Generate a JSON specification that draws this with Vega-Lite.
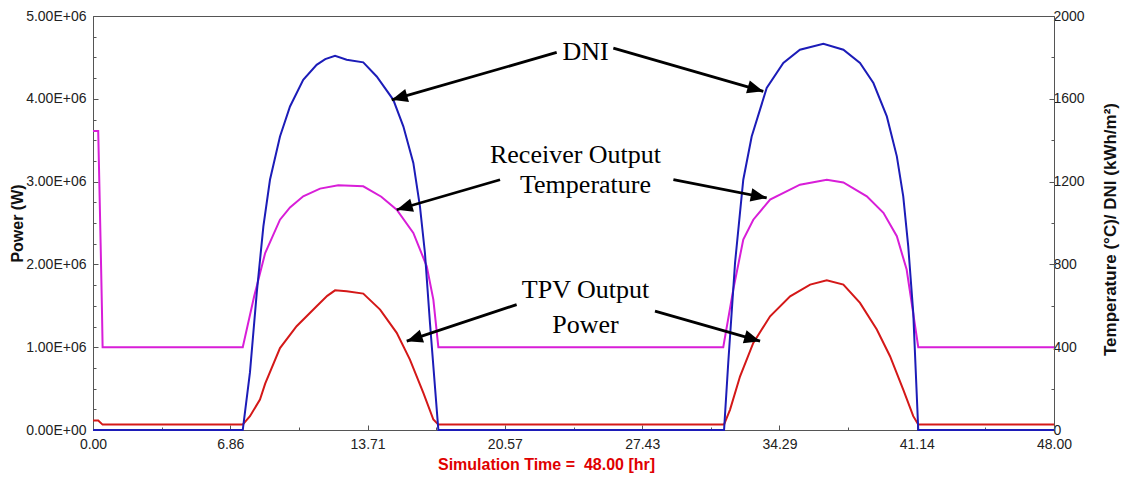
{
  "$schema": "https://vega.github.io/schema/vega-lite/v6.json",
  "width": 961,
  "height": 414,
  "autosize": {"type": "none"},
  "padding": {"left": 93, "top": 16, "right": 72, "bottom": 47},
  "background": "white",
  "config": {
    "view": {"stroke": "#555", "strokeWidth": 1},
    "axis": {"labelFont": "Liberation Sans", "labelFontSize": 14, "labelColor": "#222", "titleFont": "Liberation Sans", "domainColor": "#555", "tickColor": "#555", "grid": false, "labelOverlap": false, "labelFlush": false, "labelBound": false}
  },
  "datasets": {
    "power": [
      {"t": 0, "p": 115000}, {"t": 0.26, "p": 115000}, {"t": 0.48, "p": 65000}, {"t": 7.48, "p": 65000},
      {"t": 7.84, "p": 166000}, {"t": 8.34, "p": 368000}, {"t": 8.6, "p": 560000}, {"t": 9.34, "p": 990000},
      {"t": 10.17, "p": 1253000}, {"t": 11.17, "p": 1494000}, {"t": 11.7, "p": 1620000}, {"t": 12.09, "p": 1687000}, {"t": 12.67, "p": 1675000},
      {"t": 13.5, "p": 1647000}, {"t": 14.34, "p": 1454000}, {"t": 15.17, "p": 1173000}, {"t": 15.83, "p": 851000},
      {"t": 16.5, "p": 449000}, {"t": 17.0, "p": 127000}, {"t": 17.25, "p": 65000}, {"t": 31.52, "p": 65000},
      {"t": 31.82, "p": 247000}, {"t": 32.32, "p": 649000}, {"t": 32.98, "p": 1052000}, {"t": 33.82, "p": 1373000},
      {"t": 34.82, "p": 1615000}, {"t": 35.82, "p": 1756000}, {"t": 36.65, "p": 1808000}, {"t": 37.48, "p": 1756000},
      {"t": 38.31, "p": 1535000}, {"t": 39.15, "p": 1213000}, {"t": 39.81, "p": 891000}, {"t": 40.47, "p": 489000},
      {"t": 40.97, "p": 167000}, {"t": 41.22, "p": 65000}, {"t": 48, "p": 65000}
    ],
    "temp": [
      {"s": "Temperature", "t": 0, "v": 1445}, {"s": "Temperature", "t": 0.26, "v": 1445}, {"s": "Temperature", "t": 0.3, "v": 1267},
      {"s": "Temperature", "t": 0.38, "v": 905}, {"s": "Temperature", "t": 0.45, "v": 567}, {"s": "Temperature", "t": 0.48, "v": 400},
      {"s": "Temperature", "t": 7.48, "v": 400}, {"s": "Temperature", "t": 8.05, "v": 646}, {"s": "Temperature", "t": 8.6, "v": 855},
      {"s": "Temperature", "t": 9.34, "v": 1016}, {"s": "Temperature", "t": 9.84, "v": 1075}, {"s": "Temperature", "t": 10.5, "v": 1129},
      {"s": "Temperature", "t": 11.34, "v": 1166}, {"s": "Temperature", "t": 12.25, "v": 1182}, {"s": "Temperature", "t": 13.5, "v": 1177},
      {"s": "Temperature", "t": 14.4, "v": 1127}, {"s": "Temperature", "t": 15.17, "v": 1064}, {"s": "Temperature", "t": 16.0, "v": 952},
      {"s": "Temperature", "t": 16.67, "v": 791}, {"s": "Temperature", "t": 17.0, "v": 630}, {"s": "Temperature", "t": 17.25, "v": 400},
      {"s": "Temperature", "t": 31.48, "v": 400}, {"s": "Temperature", "t": 31.98, "v": 678}, {"s": "Temperature", "t": 32.48, "v": 920},
      {"s": "Temperature", "t": 32.98, "v": 1016}, {"s": "Temperature", "t": 33.82, "v": 1113}, {"s": "Temperature", "t": 35.31, "v": 1185},
      {"s": "Temperature", "t": 36.65, "v": 1209}, {"s": "Temperature", "t": 37.48, "v": 1196}, {"s": "Temperature", "t": 38.65, "v": 1129},
      {"s": "Temperature", "t": 39.48, "v": 1049}, {"s": "Temperature", "t": 40.15, "v": 936}, {"s": "Temperature", "t": 40.64, "v": 775},
      {"s": "Temperature", "t": 40.89, "v": 614}, {"s": "Temperature", "t": 41.22, "v": 400}, {"s": "Temperature", "t": 48, "v": 400},
      {"s": "DNI", "t": 0, "v": 0}, {"s": "DNI", "t": 7.48, "v": 0}, {"s": "DNI", "t": 7.84, "v": 278}, {"s": "DNI", "t": 8.18, "v": 664},
      {"s": "DNI", "t": 8.51, "v": 984}, {"s": "DNI", "t": 8.84, "v": 1209}, {"s": "DNI", "t": 9.34, "v": 1418}, {"s": "DNI", "t": 9.84, "v": 1563},
      {"s": "DNI", "t": 10.5, "v": 1692}, {"s": "DNI", "t": 11.17, "v": 1764}, {"s": "DNI", "t": 11.6, "v": 1792}, {"s": "DNI", "t": 12.09, "v": 1808}, {"s": "DNI", "t": 12.67, "v": 1789},
      {"s": "DNI", "t": 13.5, "v": 1776}, {"s": "DNI", "t": 14.17, "v": 1708}, {"s": "DNI", "t": 15.0, "v": 1595}, {"s": "DNI", "t": 15.5, "v": 1467},
      {"s": "DNI", "t": 16.0, "v": 1290}, {"s": "DNI", "t": 16.33, "v": 1080}, {"s": "DNI", "t": 16.58, "v": 855}, {"s": "DNI", "t": 16.83, "v": 518},
      {"s": "DNI", "t": 17.25, "v": 0}, {"s": "DNI", "t": 31.52, "v": 0}, {"s": "DNI", "t": 31.73, "v": 326}, {"s": "DNI", "t": 32.07, "v": 809},
      {"s": "DNI", "t": 32.48, "v": 1209}, {"s": "DNI", "t": 32.9, "v": 1418}, {"s": "DNI", "t": 33.65, "v": 1652}, {"s": "DNI", "t": 34.48, "v": 1773},
      {"s": "DNI", "t": 35.31, "v": 1837}, {"s": "DNI", "t": 36.48, "v": 1866}, {"s": "DNI", "t": 37.48, "v": 1837}, {"s": "DNI", "t": 38.31, "v": 1773},
      {"s": "DNI", "t": 38.98, "v": 1676}, {"s": "DNI", "t": 39.65, "v": 1515}, {"s": "DNI", "t": 40.15, "v": 1322}, {"s": "DNI", "t": 40.47, "v": 1129},
      {"s": "DNI", "t": 40.72, "v": 887}, {"s": "DNI", "t": 40.97, "v": 566}, {"s": "DNI", "t": 41.22, "v": 0}, {"s": "DNI", "t": 48, "v": 0}
    ],
    "labels": [
      {"label": "DNI", "t": 24.6, "v": 1827},
      {"label": "Receiver Output", "t": 24.1, "v": 1330},
      {"label": "Temperature", "t": 24.6, "v": 1182},
      {"label": "TPV Output", "t": 24.6, "v": 675},
      {"label": "Power", "t": 24.6, "v": 508}
    ],
    "arrows": [
      {"id": "a1", "t": 23.16, "v": 1824, "t2": 14.92, "v2": 1595},
      {"id": "a2", "t": 25.99, "v": 1845, "t2": 33.48, "v2": 1636},
      {"id": "a3", "t": 20.33, "v": 1209, "t2": 15.17, "v2": 1064},
      {"id": "a4", "t": 28.99, "v": 1209, "t2": 33.65, "v2": 1121},
      {"id": "a5", "t": 21.16, "v": 606, "t2": 15.67, "v2": 429},
      {"id": "a6", "t": 28.07, "v": 574, "t2": 33.32, "v2": 429}
    ]
  },
  "layer": [
    {
      "data": {"name": "power"},
      "mark": {"type": "line", "color": "#d41818", "strokeWidth": 2},
      "encoding": {
        "x": {
          "field": "t", "type": "quantitative",
          "scale": {"domain": [0, 48], "nice": false, "zero": false},
          "axis": {
            "values": [0, 1.7142857, 3.4285714, 5.1428571, 6.8571429, 8.5714286, 10.2857143, 12, 13.7142857, 15.4285714, 17.1428571, 18.8571429, 20.5714286, 22.2857143, 24, 25.7142857, 27.4285714, 29.1428571, 30.8571429, 32.5714286, 34.2857143, 36, 37.7142857, 39.4285714, 41.1428571, 42.8571429, 44.5714286, 46.2857143, 48],
            "labelExpr": "round(datum.value*28/48) % 4 === 0 ? format(datum.value, '.2f') : ''",
            "tickSize": {"condition": {"test": "round(datum.value*28/48) % 4 === 0", "value": -5}, "value": -3},
            "labelPadding": 12,
            "title": "Simulation Time =\u00a0 48.00 [hr]",
            "titleColor": "#e00000",
            "titleFontSize": 16,
            "titleFontWeight": "bold",
            "titleX": 453,
            "titleY": 34,
            "titleBaseline": "middle",
            "titleAlign": "center"
          }
        },
        "y": {
          "field": "p", "type": "quantitative",
          "scale": {"domain": [0, 5000000], "nice": false},
          "axis": {
            "orient": "left",
            "values": [0, 250000, 500000, 750000, 1000000, 1250000, 1500000, 1750000, 2000000, 2250000, 2500000, 2750000, 3000000, 3250000, 3500000, 3750000, 4000000, 4250000, 4500000, 4750000, 5000000],
            "labelExpr": "datum.value % 1000000 === 0 ? replace(format(datum.value, '.2e'), 'e+', 'E+0') : ''",
            "tickSize": {"condition": {"test": "datum.value % 1000000 === 0", "value": -5}, "value": -3},
            "labelPadding": 12,
            "title": "Power (W)",
            "titleColor": "#111",
            "titleFontSize": 16,
            "titleFontWeight": "bold",
            "titleAngle": -90,
            "titleX": -76,
            "titleY": 207,
            "titleBaseline": "middle",
            "titleAlign": "center"
          }
        }
      }
    },
    {
      "layer": [
        {
          "data": {"name": "temp"},
          "mark": {"type": "line", "strokeWidth": 2},
          "encoding": {
            "x": {"field": "t", "type": "quantitative", "scale": {"domain": [0, 48], "nice": false, "zero": false}},
            "y": {
              "field": "v", "type": "quantitative",
              "scale": {"domain": [0, 2000], "nice": false},
              "axis": {
                "orient": "right",
                "values": [0, 100, 200, 300, 400, 500, 600, 700, 800, 900, 1000, 1100, 1200, 1300, 1400, 1500, 1600, 1700, 1800, 1900, 2000],
                "labelExpr": "datum.value % 400 === 0 ? format(datum.value, 'd') : ''",
                "tickSize": {"condition": {"test": "datum.value % 400 === 0", "value": -5}, "value": -3},
                "labelPadding": 4,
                "title": "Temperature (°C)/ DNI (kWh/m²)",
                "titleColor": "#111",
                "titleFontSize": 17,
                "titleFontWeight": "bold",
                "titleAngle": -90,
                "titleX": 56,
                "titleY": 213,
                "titleBaseline": "middle",
                "titleAlign": "center"
              }
            },
            "color": {"field": "s", "type": "nominal", "scale": {"domain": ["Temperature", "DNI"], "range": ["#d81ed8", "#1c1cb8"]}, "legend": null}
          }
        },
        {
          "data": {"name": "arrows"},
          "mark": {"type": "rule", "color": "black", "strokeWidth": 2.8},
          "encoding": {
            "x": {"field": "t", "type": "quantitative", "scale": {"domain": [0, 48], "nice": false, "zero": false}},
            "y": {"field": "v", "type": "quantitative", "scale": {"domain": [0, 2000], "nice": false}},
            "x2": {"field": "t2"},
            "y2": {"field": "v2"}
          }
        },
        {
          "data": {"name": "arrows"},
          "mark": {"type": "point", "shape": "M0,0L-1,-0.42L-1,0.42Z", "filled": true, "color": "black", "opacity": 1, "size": 1024},
          "encoding": {
            "x": {"field": "t2", "type": "quantitative", "scale": {"domain": [0, 48], "nice": false, "zero": false}},
            "y": {"field": "v2", "type": "quantitative", "scale": {"domain": [0, 2000], "nice": false}},
            "angle": {"field": "id", "type": "nominal", "scale": {"type": "ordinal", "domain": ["a1", "a2", "a3", "a4", "a5", "a6"], "range": [164.0, 16.1, 163.8, 11.1, 161.6, 15.9]}, "legend": null}
          }
        },
        {
          "data": {"name": "labels"},
          "mark": {"type": "text", "font": "Liberation Serif", "fontSize": 26, "color": "black", "align": "center", "baseline": "middle"},
          "encoding": {
            "x": {"field": "t", "type": "quantitative", "scale": {"domain": [0, 48], "nice": false, "zero": false}},
            "y": {"field": "v", "type": "quantitative", "scale": {"domain": [0, 2000], "nice": false}},
            "text": {"field": "label"}
          }
        }
      ]
    }
  ],
  "resolve": {"scale": {"y": "independent"}}
}
